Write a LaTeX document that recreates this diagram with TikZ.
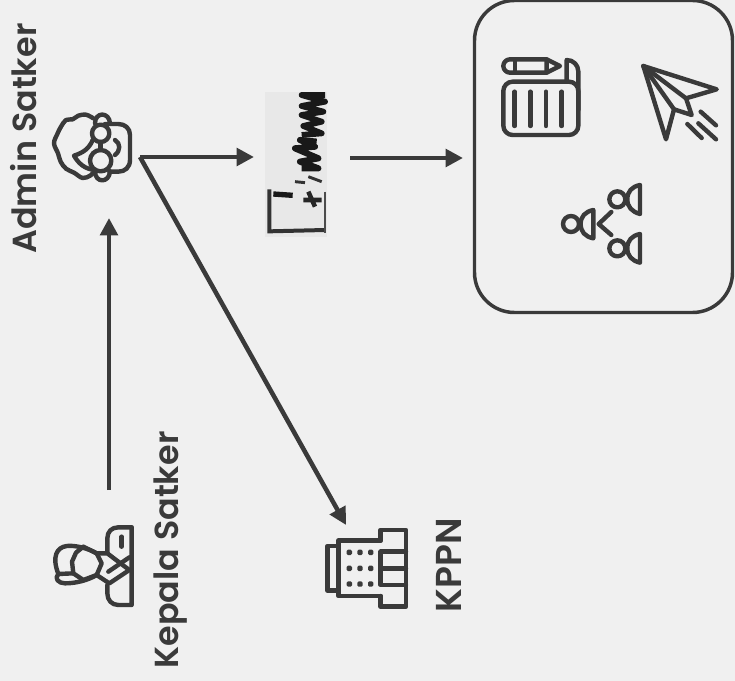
\documentclass[tikz,border=0pt]{standalone}
\usepackage{xcolor}
\usepackage{tikz}
\usepackage{fontspec}
\setmainfont{Poppins SemiBold}
\usetikzlibrary{arrows.meta}
\definecolor{ink}{HTML}{3A3A3A}
\definecolor{paper}{HTML}{F0F0F0}
\definecolor{scan}{HTML}{E8E8E8}

\begin{document}
\begin{tikzpicture}[x=.75pt, y=-.75pt,
	main/.style = {font=\fontsize{25}{30}\selectfont, text=ink, rotate=90, inner sep=0pt},
	flow/.style = {draw=ink, line width=3.4pt, -{Triangle[length=13pt,width=13pt]}},
	panel/.style = {draw=ink, line width=2.6pt, rounded corners=30pt, minimum width=193.5pt, minimum height=234pt, inner sep=0pt},
	icon/.style = {draw=ink, line width=3.3pt, line cap=round, line join=round},
	zoomed/.style = {x=.25pt, y=-.25pt}]
	\useasboundingbox[fill=paper] (0,0) rectangle (735,681);
	\node[main] (admin) at (24,138.5) {Admin Satker};
	\node[main] (kepala) at (171,550) {Kepala Satker};
	\node[main, font=\fontsize{27}{30}\selectfont] (kppn) at (449,565.5) {KPPN};
	\node[panel] (box) at (603.5,156.5) {};
	\coordinate (adminout) at (140,157);
	\coordinate (adminin) at (109,218);
	\coordinate (docin) at (254,157);
	\coordinate (docout) at (350,158);
	\coordinate (kepalaout) at (109,490);
	\coordinate (kppnin) at (346,525);
	\coordinate (boxin) at (463,158);
	\draw[flow] (kepalaout) -- (adminin);
	\draw[flow] (adminout) -- (docin);
	\draw[flow] (adminout) -- (kppnin);
	\draw[flow] (docout) -- (boxin);
	\begin{scope}[shift={(50,110)}, zoomed]
		\draw[icon] plot[smooth, tension=.6] coordinates {(130,25) (108,14) (85,17) (68,28) (48,30) (33,50) (22,72) (12,100) (24,130) (32,155) (48,176) (72,188) (98,204) (122,196) (135,182)};
		\draw[icon] (128,90) .. controls (118,115) and (100,128) .. (72,137) .. controls (85,160) and (105,178) .. (135,180);
		\draw[icon] (165,42) -- (205,42) .. controls (225,42) and (240,55) .. (240,75) -- (240,150) .. controls (240,172) and (225,185) .. (205,185) -- (178,185);
		\draw[icon] (152,70) circle (26);
		\draw[icon] (152,152) circle (32);
		\draw[icon] (152,96) -- (152,120);
		\draw[icon] (135,40) .. controls (135,5) and (178,5) .. (180,40);
		\draw[icon] (135,184) .. controls (135,220) and (178,220) .. (180,184);
		\draw[icon] (195,90) .. controls (212,100) and (212,122) .. (195,135);
	\end{scope}
	\begin{scope}[shift={(0,0)}, zoomed]
		\fill[scan] (795,275) rectangle (980,710);
		\draw[black!80, line width=3pt] (808,568) -- (808,694) -- (975,690);
		\draw[black!70, line width=1.4pt] (975,575) -- (975,700);
		\draw[black!90, line width=4pt] (820,582) -- (878,586);
		\draw[black!80, line width=2.2pt] (885,545) -- (915,548) (925,530) -- (965,545);
		\draw[black!85, line width=3.4pt] (910,600) -- (965,600) (925,575) -- (945,620);
		\draw[black!90, line width=4.6pt, line join=round] (905,505) -- (955,505) -- (900,485) -- (955,475) -- (885,445) -- (945,440) -- (900,420) -- (950,425);
		\draw[black!90, line width=4.4pt, line join=round] (905,405) -- (965,400) -- (910,378) -- (965,365) -- (905,345) -- (970,335) -- (905,318) -- (975,305) -- (905,285) -- (975,285);
	\end{scope}
	\begin{scope}[shift={(470,0)}, zoomed]
		\draw[icon, rounded corners=5pt] (230,178) -- (100,178) -- (100,218) -- (230,218);
		\draw[icon] (230,178) -- (270,198) -- (230,218) -- cycle;
		\draw[icon] (135,178) -- (135,218);
		\draw[icon, rounded corners=7pt] (100,245) rectangle (325,405);
		\draw[icon] (290,245) -- (290,180) .. controls (310,180) and (325,195) .. (325,215) -- (325,330);
		\foreach \xbar in {134,181,228,275}
			\draw[icon] (\xbar,275) -- (\xbar,378);
		\draw[icon] (520,198) -- (740,268) -- (648,295) -- (665,345) -- (612,328) -- (588,418) -- cycle;
		\draw[icon] (520,198) -- (648,295);
		\draw[icon] (520,198) -- (612,328);
		\draw[icon] (692,335) -- (738,376);
		\draw[icon] (685,370) -- (738,418);
		\draw[icon] (652,372) -- (695,414);
		\draw[icon] (303,672) circle (24);
		\draw[icon] (370,630) .. controls (345,635) and (332,650) .. (332,672) .. controls (332,695) and (345,710) .. (370,715) -- cycle;
		\draw[icon] (442,598) circle (24);
		\draw[icon] (510,555) .. controls (485,560) and (472,575) .. (472,598) .. controls (472,620) and (485,635) .. (510,642) -- cycle;
		\draw[icon] (442,745) circle (24);
		\draw[icon] (510,702) .. controls (485,707) and (472,722) .. (472,745) .. controls (472,767) and (485,782) .. (510,788) -- cycle;
		\draw[icon] (424,636) -- (386,672) -- (424,705);
	\end{scope}
	\begin{scope}[shift={(50,520)}, zoomed]
		\draw[icon] (140,100) .. controls (115,85) and (75,75) .. (50,78) .. controls (20,82) and (5,110) .. (25,162) .. controls (12,175) and (25,190) .. (45,190) .. controls (80,190) and (115,180) .. (140,165);
		\draw[icon] (78,98) -- (100,80) (78,98) -- (66,125) -- (70,160) -- (100,180) (100,80) -- (140,100) -- (155,130) -- (140,165) -- (100,180);
		\draw[icon] (25,162) -- (70,160);
		\draw[icon] (245,22) -- (245,255) -- (205,255) .. controls (185,255) and (172,240) .. (172,220) -- (172,195);
		\draw[icon] (245,22) -- (205,22) .. controls (185,22) and (172,35) .. (172,55) -- (172,98);
		\draw[icon] (140,100) -- (172,100) -- (238,150) -- (178,190) -- (140,165);
		\draw[icon] (238,112) -- (175,155);
		\draw[icon] (215,50) -- (215,80);
	\end{scope}
	\begin{scope}[shift={(310,500)}, zoomed]
		\draw[icon] (85,138) -- (53,138) -- (53,272) -- (85,272);
		\draw[icon] (212,122) -- (85,122) -- (85,288) -- (212,288);
		\draw[icon] (212,122) -- (212,90) -- (288,90) -- (288,320) -- (212,320) -- (212,288);
		\draw[icon] (288,155) -- (212,155) -- (212,255) -- (288,255);
		\draw[icon] (212,205) -- (288,205);
		\foreach \xdot in {118,150,182}
			\foreach \ydot in {157,205,252}
				\fill[ink, rounded corners=1pt] (\xdot-8,\ydot-8) rectangle (\xdot+8,\ydot+8);
	\end{scope}
\end{tikzpicture}
\end{document}
